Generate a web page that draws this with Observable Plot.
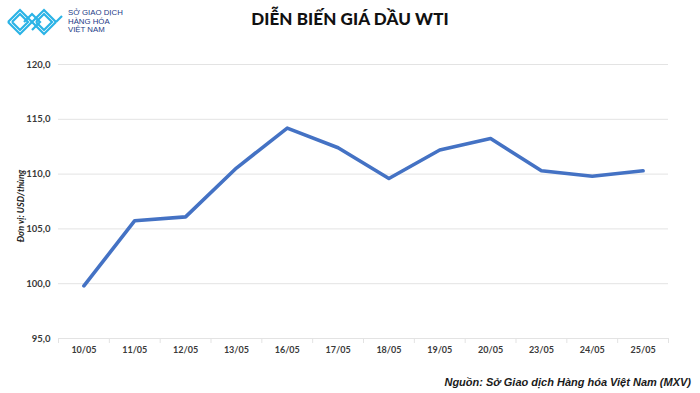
<!DOCTYPE html>
<html>
<head>
<meta charset="utf-8">
<script src="https://cdn.jsdelivr.net/npm/d3@7"></script>
<script src="https://cdn.jsdelivr.net/npm/@observablehq/plot@0.6"></script>
<style>
  html, body { margin: 0; padding: 0; background: #fff; }
  #wrap { position: relative; width: 700px; height: 393px; overflow: hidden; font-family: Lato, "Open Sans", sans-serif; }
  #chart { position: absolute; left: 0; top: 0; }
  .title { position: absolute; left: 0; width: 700px; top: 8px; text-align: center; font-family: Lato, sans-serif; font-weight: 900; font-size: 17px; color: #111; letter-spacing: 0.1px; }
  .ylabel { position: absolute; left: 20px; top: 206px; transform: translate(-50%, -50%) rotate(-90deg); white-space: nowrap; font-family: Lato, sans-serif; font-weight: bold; font-style: italic; font-size: 9px; color: #222; }
  .caption { position: absolute; right: 9px; top: 376px; font-family: "Liberation Sans", Arial, sans-serif; font-weight: bold; font-style: italic; font-size: 11px; color: #1a1a1a; white-space: nowrap; }
  .logo { position: absolute; left: 0; top: 0; }
  .logotext { position: absolute; left: 68px; top: 9px; font-family: "Liberation Sans", Arial, sans-serif; font-size: 7.8px; line-height: 8.6px; color: #1b3a86; }
</style>
</head>
<body>
<div id="wrap">
  <div id="chart"></div>
  <svg class="logo" width="66" height="44" viewBox="0 0 66 44">
    <g fill="none" stroke="#2bb3e6" stroke-width="2.2" stroke-linejoin="miter">
      <polyline points="8,22 20,10 32,22 44,10 56,22"/>
      <polyline points="12,22 20,14 28,22 20,30 12,22"/>
      <polyline points="36,22 44,14 52,22 44,30 36,22"/>
      <polyline points="8,22 20,34 32,22 44,34 56,22"/>
      <polyline points="24,22 32,14 40,22 32,30"/>
      <polyline points="56,22 62,16"/>
    </g>
  </svg>
  <div class="logotext">SỞ GIAO DỊCH<br>HÀNG HÓA<br>VIỆT NAM</div>
  <div class="title">DIỄN BIẾN GIÁ DẦU WTI</div>
  <div class="ylabel">Đơn vị: USD/thùng</div>
  <div class="caption">Nguồn: Sở Giao dịch Hàng hóa Việt Nam (MXV)</div>
</div>
<script>
const dates = ["10/05","11/05","12/05","13/05","16/05","17/05","18/05","19/05","20/05","23/05","24/05","25/05"];
const prices = [99.8, 105.75, 106.1, 110.55, 114.2, 112.4, 109.6, 112.2, 113.25, 110.3, 109.8, 110.3];
const yTicks = [95, 100, 105, 110, 115, 120];

const data = dates.map((d, i) => ({date: d, price: prices[i]}));

const W = 700, H = 393, mL = 58, mR = 32, mT = 64, mB = 55;
const step = (W - mL - mR) / dates.length;

const chart = Plot.plot({
  width: W,
  height: H,
  marginTop: mT,
  marginBottom: mB,
  marginLeft: mL,
  marginRight: mR,
  style: {fontFamily: "Lato, 'Open Sans', sans-serif", background: "transparent", overflow: "visible"},
  x: {type: "point", domain: dates, padding: 0.5, round: false},
  y: {domain: [95, 120]},
  marks: [
    Plot.gridY(yTicks, {stroke: "#e3e3e3", strokeOpacity: 1, strokeWidth: 1}),
    Plot.ruleX(dates, {x: d => d, y1: 95, y2: 95, insetBottom: -5, dx: -step / 2, stroke: "#e3e3e3"}),
    Plot.ruleX([dates[dates.length - 1]], {x: d => d, y1: 95, y2: 95, insetBottom: -5, dx: step / 2, stroke: "#e3e3e3"}),
    Plot.axisY(yTicks, {
      tickSize: 0, tickPadding: 8, label: null,
      tickFormat: d => d.toFixed(1).replace(".", ","),
      fontWeight: "bold", fontSize: 9.5, fill: "#3a3a3a"
    }),
    Plot.axisX({
      tickSize: 0, tickPadding: 8, label: null,
      fontWeight: "bold", fontSize: 9, fill: "#3a3a3a"
    }),
    Plot.line(data, {x: "date", y: "price", stroke: "#4472C4", strokeWidth: 3.6, strokeLinejoin: "round", strokeLinecap: "round"})
  ]
});
document.getElementById("chart").appendChild(chart);
</script>
</body>
</html>
